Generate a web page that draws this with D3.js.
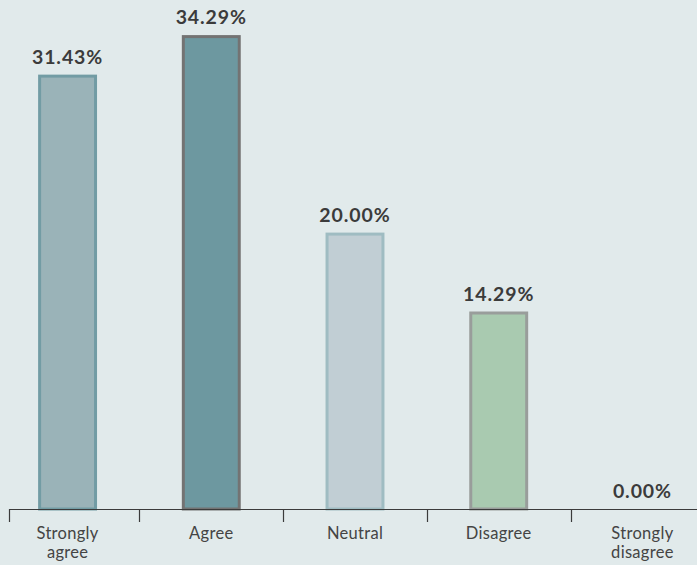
<!DOCTYPE html>
<html>
<head>
<meta charset="utf-8">
<script src="https://cdn.jsdelivr.net/npm/d3@7"></script>
<style>
  html, body { margin: 0; padding: 0; background: #e1eaeb; }
  svg { display: block; }
</style>
</head>
<body>
<svg id="chart" width="697" height="565"></svg>
<script>
// Survey responses (share of respondents, %)
const categories = ["Strongly agree", "Agree", "Neutral", "Disagree", "Strongly disagree"];
const categoryLines = [["Strongly", "agree"], ["Agree"], ["Neutral"], ["Disagree"], ["Strongly", "disagree"]];
const values = [31.43, 34.29, 20.00, 14.29, 0.00];
const fills = ["#9ab3b8", "#6d98a0", "#c1ced4", "#a9cab0", "#c1ced4"];
const strokes = ["#729ca4", "#737373", "#9fbcc2", "#999d9b", "#9fbcc2"];

const width = 697, height = 565;
const svg = d3.select("#chart");

svg.append("rect").attr("width", width).attr("height", height).attr("fill", "#e1eaeb");

const x = d3.scaleBand()
  .domain(categories)
  .range([-5, 715])
  .paddingInner(0.59)
  .paddingOuter(0.3);

const baseY = 509;
const y = d3.scaleLinear().domain([0, 36.83]).range([baseY, 0]);

// bars
svg.selectAll("rect.bar")
  .data(values)
  .join("rect")
  .attr("class", "bar")
  .attr("x", (d, i) => x(categories[i]) + 1.5)
  .attr("y", d => y(d) + 1.5)
  .attr("width", x.bandwidth() - 3)
  .attr("height", d => Math.max(0, baseY - y(d) - 1.5))
  .attr("fill", (d, i) => fills[i])
  .attr("stroke", (d, i) => strokes[i])
  .attr("stroke-width", 3)
  .attr("display", d => d > 0 ? null : "none");

// value labels
svg.selectAll("text.value")
  .data(values)
  .join("text")
  .attr("class", "value")
  .attr("x", (d, i) => x(categories[i]) + x.bandwidth() / 2)
  .attr("y", d => y(d) - 11)
  .attr("text-anchor", "middle")
  .attr("font-family", "Lato, 'Noto Sans', sans-serif")
  .attr("font-weight", "bold")
  .attr("font-size", 19.5)
  .attr("letter-spacing", 0.9)
  .attr("fill", "#3b3b3b")
  .text(d => d.toFixed(2) + "%");

// axis line and ticks at band boundaries
const axis = svg.append("g").attr("stroke", "#3b3b3b").attr("stroke-width", 1.2);
axis.append("line").attr("x1", 9).attr("x2", width).attr("y1", baseY + 0.5).attr("y2", baseY + 0.5);
const tickXs = [9].concat(categories.slice(1).map(c => x(c) - x.step() * x.paddingInner() / 2));
axis.selectAll("line.tick")
  .data(tickXs)
  .join("line")
  .attr("class", "tick")
  .attr("x1", d => Math.round(d) + 0.5)
  .attr("x2", d => Math.round(d) + 0.5)
  .attr("y1", baseY)
  .attr("y2", baseY + 13);

// category labels
const labels = svg.selectAll("text.cat")
  .data(categoryLines)
  .join("text")
  .attr("class", "cat")
  .attr("text-anchor", "middle")
  .attr("font-family", "Lato, 'Noto Sans', sans-serif")
  .attr("font-size", 16.5)
  .attr("letter-spacing", 0.3)
  .attr("fill", "#444");
labels.selectAll("tspan")
  .data((d, i) => d.map(t => ({ t, i })))
  .join("tspan")
  .attr("x", d => x(categories[d.i]) + x.bandwidth() / 2)
  .attr("y", (d, j) => 539 + j * 19)
  .text(d => d.t);
</script>
</body>
</html>
